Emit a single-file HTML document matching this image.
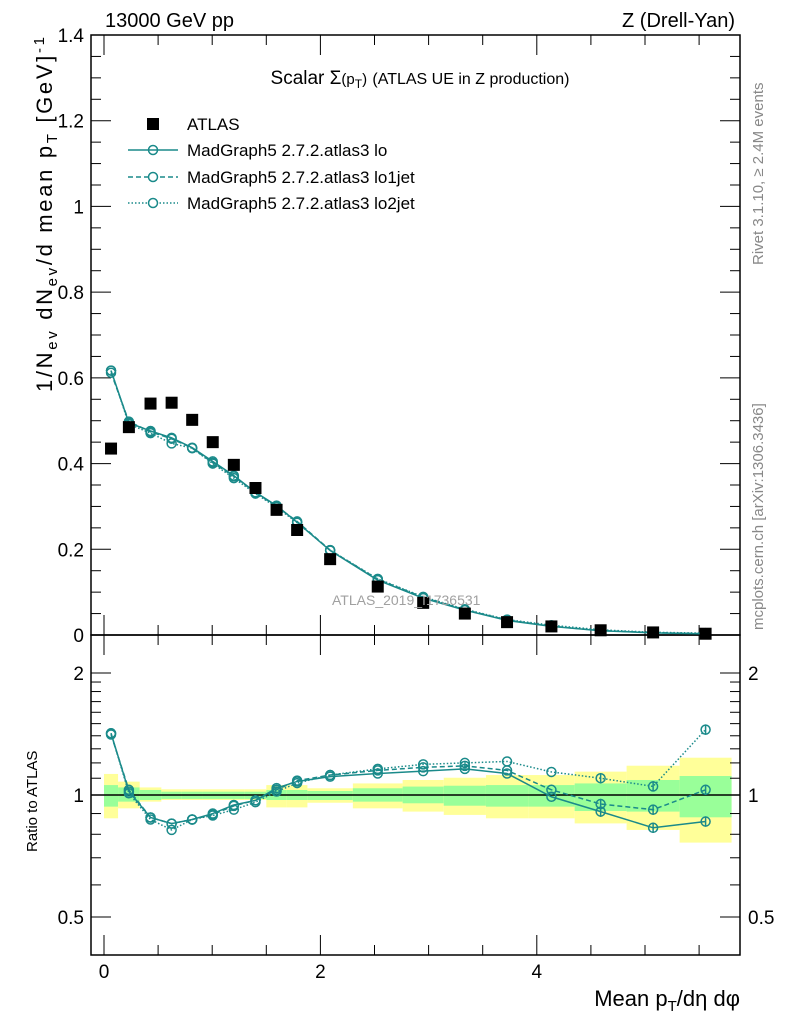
<!DOCTYPE html>
<html><head><meta charset="utf-8"><style>
body{margin:0;background:#fff;}
svg text{font-family:"Liberation Sans",sans-serif;}
</style></head><body>
<svg id="chart" width="786" height="1024" viewBox="0 0 786 1024" xmlns="http://www.w3.org/2000/svg">
<g id="bands"></g>
<g id="axes"></g>
<g id="series"></g>
<text x="105" y="27" font-size="20">13000 GeV pp</text>
<text x="735" y="27" font-size="20" text-anchor="end">Z (Drell-Yan)</text>
<text x="420" y="84" font-size="19" text-anchor="middle">Scalar Σ<tspan font-size="15">(p<tspan dy="4" font-size="12">T</tspan><tspan dy="-4">)</tspan></tspan> <tspan font-size="16">(ATLAS UE in Z production)</tspan></text>
<text x="332" y="605" font-size="14" fill="#a0a0a0">ATLAS_2019_I1736531</text>
<text transform="translate(763,265) rotate(-90)" font-size="15" fill="#888">Rivet 3.1.10, ≥ 2.4M events</text>
<text transform="translate(763,630) rotate(-90)" font-size="15" fill="#888">mcplots.cern.ch [arXiv:1306.3436]</text>
<text transform="translate(52,392) rotate(-90)" font-size="22" textLength="355" lengthAdjust="spacing">1/N<tspan dy="5" font-size="15">ev</tspan><tspan dy="-5"> dN</tspan><tspan dy="5" font-size="15">ev</tspan><tspan dy="-5">/d mean p</tspan><tspan dy="5" font-size="15">T</tspan><tspan dy="-5">  [GeV]</tspan><tspan dy="-8" font-size="15">-1</tspan></text>
<text transform="translate(37,852) rotate(-90)" font-size="15">Ratio to ATLAS</text>
<text x="740" y="1006" font-size="22" text-anchor="end">Mean p<tspan dy="5" font-size="15">T</tspan><tspan dy="-5">/dη dφ</tspan></text>
<g>
<rect x="147" y="118" width="12" height="12" fill="#000"/>
<text x="187" y="130" font-size="17">ATLAS</text>
<line x1="128" y1="150" x2="178" y2="150" stroke="#1a8a8a" stroke-width="1.5"/>
<circle cx="153" cy="150" r="4.5" fill="none" stroke="#1a8a8a" stroke-width="1.5"/>
<text x="187" y="156" font-size="17">MadGraph5 2.7.2.atlas3 lo</text>
<line x1="128" y1="177" x2="178" y2="177" stroke="#1a8a8a" stroke-width="1.5" stroke-dasharray="5,3"/>
<circle cx="153" cy="177" r="4.5" fill="#fff" stroke="#1a8a8a" stroke-width="1.5"/>
<text x="187" y="183" font-size="17">MadGraph5 2.7.2.atlas3 lo1jet</text>
<line x1="128" y1="203" x2="178" y2="203" stroke="#1a8a8a" stroke-width="1.5" stroke-dasharray="1.5,2"/>
<circle cx="153" cy="203" r="4.5" fill="#fff" stroke="#1a8a8a" stroke-width="1.5"/>
<text x="187" y="209" font-size="17">MadGraph5 2.7.2.atlas3 lo2jet</text>
</g>
</svg>
<script>
const binEdges=[0,0.13,0.33,0.53,0.72,0.91,1.1,1.3,1.5,1.69,1.88,2.3,2.76,3.14,3.53,3.92,4.35,4.83,5.32,5.8];
const atlas=[0.435,0.485,0.54,0.542,0.502,0.45,0.397,0.343,0.292,0.245,0.177,0.113,0.075,0.05,0.03,0.02,0.011,0.006,0.003];
const mcLo=[0.617,0.495,0.476,0.46,0.437,0.405,0.372,0.333,0.302,0.263,0.197,0.128,0.086,0.058,0.034,0.02,0.01,0.005,0.0026];
const mcLo1=[0.612,0.498,0.474,0.458,0.436,0.402,0.37,0.332,0.3,0.265,0.198,0.13,0.088,0.059,0.035,0.0206,0.0104,0.0055,0.0031];
const mcLo2=[0.617,0.492,0.471,0.447,0.436,0.4,0.366,0.33,0.298,0.262,0.198,0.131,0.089,0.06,0.036,0.0228,0.0121,0.0063,0.0044];
const rLo=[1.42,1.02,0.88,0.85,0.87,0.9,0.945,0.97,1.04,1.08,1.11,1.13,1.145,1.16,1.13,0.99,0.91,0.83,0.86];
const rLo1=[1.41,1.03,0.88,0.85,0.87,0.895,0.94,0.97,1.03,1.085,1.12,1.15,1.17,1.18,1.15,1.03,0.95,0.92,1.03];
const rLo2=[1.42,1.01,0.87,0.82,0.87,0.89,0.92,0.96,1.02,1.07,1.12,1.16,1.19,1.2,1.21,1.14,1.10,1.05,1.45];
const totHi=[1.127,1.079,1.044,1.033,1.033,1.033,1.033,1.033,1.058,1.058,1.039,1.068,1.089,1.103,1.12,1.12,1.142,1.181,1.236];
const totLo=[0.876,0.927,0.963,0.972,0.972,0.972,0.972,0.972,0.932,0.932,0.957,0.927,0.91,0.893,0.876,0.876,0.851,0.82,0.763];
const statHi=[1.058,1.044,1.029,1.019,1.019,1.019,1.019,1.019,1.029,1.029,1.023,1.039,1.049,1.054,1.058,1.058,1.068,1.089,1.114];
const statLo=[0.936,0.963,0.972,0.978,0.978,0.978,0.978,0.978,0.972,0.972,0.972,0.963,0.954,0.941,0.936,0.936,0.913,0.91,0.881];
const mainTicks=["0","0.2","0.4","0.6","0.8","1","1.2","1.4"];
const ratioTicks=[0.5,1,2];
const xTicks=[0,2,4];

const NS="http://www.w3.org/2000/svg";
const L=91,R=740,T=35,M=635,B=955;
const xs=v=>104+v*108.2;
const ym=v=>M-v*(M-T)/1.4;
const yr=v=>795-Math.log2(v)*122;
function mk(tag,attrs,parent){const e=document.createElementNS(NS,tag);for(const k in attrs)e.setAttribute(k,attrs[k]);parent.appendChild(e);return e;}
const axes=document.getElementById('axes'),series=document.getElementById('series'),bands=document.getElementById('bands');
const mids=atlas.map((_,i)=>(binEdges[i]+binEdges[i+1])/2);

atlas.forEach((_,i)=>{
 const x0=xs(binEdges[i]),x1=xs(binEdges[i+1]);
 const y=mk('rect',{x:x0,y:yr(totHi[i]),width:x1-x0,height:yr(totLo[i])-yr(totHi[i]),fill:'#ffff99'},bands);
 
 
 const g=mk('rect',{x:x0,y:yr(statHi[i]),width:x1-x0,height:yr(statLo[i])-yr(statHi[i]),fill:'#99ff99'},bands);
 
 
});
mk('line',{x1:L,x2:R,y1:yr(1),y2:yr(1),stroke:'#000','stroke-width':1.5},axes);

const f1=mk('rect',{x:L,y:T,width:R-L,height:M-T,fill:'none',stroke:'#000','stroke-width':1.5},axes);


const f2=mk('rect',{x:L,y:M,width:R-L,height:B-M,fill:'none',stroke:'#000','stroke-width':1.5},axes);



for(let v=0;v<=1.4001;v+=0.05){const y=ym(v);const major=Math.abs(v/0.2-Math.round(v/0.2))<1e-6;const len=major?20:10;
 mk('line',{x1:L,x2:L+len,y1:y,y2:y,stroke:'#000'},axes);mk('line',{x1:R,x2:R-len,y1:y,y2:y,stroke:'#000'},axes);}
mainTicks.forEach(t=>{const e=mk('text',{x:84,y:ym(parseFloat(t))+7,'font-size':19,'text-anchor':'end'},axes);e.textContent=t;
 
 });
[0.5,0.6,0.7,0.8,0.9,1,1.1,1.2,1.3,1.4,1.5,1.6,1.7,1.8,1.9,2].forEach(v=>{const y=yr(v);const len=(v==0.5||v==1||v==2)?20:10;
 mk('line',{x1:L,x2:L+len,y1:y,y2:y,stroke:'#000'},axes);mk('line',{x1:R,x2:R-len,y1:y,y2:y,stroke:'#000'},axes);});
ratioTicks.forEach(t=>{const a=mk('text',{x:84,y:yr(t)+7,'font-size':19,'text-anchor':'end'},axes);a.textContent=String(t);
 
 
 const b=mk('text',{x:748,y:yr(t)+7,'font-size':19},axes);b.textContent=String(t);
 
 });
for(let v=0;v<=5.5001;v+=0.5){const x=xs(v);const major=Math.abs(v%2)<1e-6;const len=major?20:10;
 [[T,1],[M,-1],[M,1],[B,-1]].forEach(([y0,d])=>mk('line',{x1:x,x2:x,y1:y0,y2:y0+d*len,stroke:'#000'},axes));}
xTicks.forEach(t=>{const e=mk('text',{x:xs(t),y:978,'font-size':19,'text-anchor':'middle'},axes);e.textContent=String(t);
 
 });

const teal='#1a8a8a';
function drawSeries(vals,yf,dash,name){
 const pts=vals.map((v,i)=>xs(mids[i])+','+yf(v)).join(' ');
 const pl=mk('polyline',{points:pts,fill:'none',stroke:teal,'stroke-width':1.5,'stroke-dasharray':dash},series);
 
 
 vals.forEach((v,i)=>{const c=mk('circle',{cx:xs(mids[i]),cy:yf(v),r:4.5,fill:'none',stroke:teal,'stroke-width':1.5},series);
  
  });
}
drawSeries(mcLo,ym,'none','main-lo');
drawSeries(mcLo1,ym,'5,3','main-lo1jet');
drawSeries(mcLo2,ym,'1.5,2','main-lo2jet');
atlas.forEach((v,i)=>{const r=mk('rect',{x:xs(mids[i])-6,y:ym(v)-6,width:12,height:12,fill:'#000'},series);
 
 });
drawSeries(rLo,yr,'none','ratio-lo');
drawSeries(rLo1,yr,'5,3','ratio-lo1jet');
drawSeries(rLo2,yr,'1.5,2','ratio-lo2jet');
[rLo,rLo1,rLo2].forEach(arr=>{for(let i=16;i<19;i++){const x=xs(mids[i]);
 mk('line',{x1:x,x2:x,y1:yr(arr[i]*1.03),y2:yr(arr[i]/1.03),stroke:teal,'stroke-width':1.5},series);}});
</script>
</body></html>
